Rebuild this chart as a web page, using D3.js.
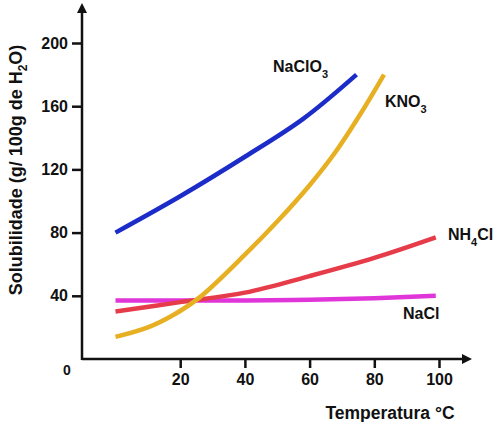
<!DOCTYPE html>
<html>
<head>
<meta charset="utf-8">
<script src="https://cdn.jsdelivr.net/npm/d3@7"></script>
<style>
  body { margin: 0; background: #fff; }
  svg text { font-family: "Liberation Sans", Arial, sans-serif; font-weight: bold; fill: #111; }
</style>
</head>
<body>
<div id="chart"></div>
<script>
// solubility curves
const naclo3Temp = [0, 20, 40, 58, 74.5];
const naclo3Sol = [80, 103, 128, 152, 180];

const kno3Temp = [0, 10, 18, 26, 40, 50, 60, 68, 76, 83];
const kno3Sol = [14, 20, 28, 39, 66, 87, 110, 131, 156, 180];

const nh4clTemp = [0, 20, 40, 60, 80, 99];
const nh4clSol = [30, 36, 42, 52.5, 64, 77];

const naclTemp = [0, 20, 40, 60, 80, 99];
const naclSol = [37, 37, 37, 37.5, 38.5, 40];

const xTicks = [20, 40, 60, 80, 100];
const yTicks = [40, 80, 120, 160, 200];

const width = 500;
const height = 422;

const svg = d3.select("#chart")
  .append("svg")
    .attr("width", width)
    .attr("height", height);

const x = d3.scaleLinear()
  .domain([0, 100])
  .range([115.5, 439]);
const y = d3.scaleLinear()
  .domain([0, 200])
  .range([359, 43]);

const axisX0 = 82;

// x axis
svg.append("g")
  .attr("class", "domainX")
  .attr("transform", `translate(0, ${y(0)})`)
  .call(d3.axisBottom(x).tickValues(xTicks).tickSize(9).tickPadding(6))
  .call(g => g.select(".domain").remove());
svg.selectAll(".domainX line").attr("stroke", "#111").attr("stroke-width", 2.5);
svg.selectAll(".domainX text").style("font-size", "16px");

// y axis
svg.append("g")
  .attr("class", "domainY")
  .attr("transform", `translate(${axisX0}, 0)`)
  .call(d3.axisLeft(y).tickValues(yTicks).tickSize(10).tickPadding(4))
  .call(g => g.select(".domain").remove());
svg.selectAll(".domainY line").attr("stroke", "#111").attr("stroke-width", 2.5);
svg.selectAll(".domainY text").style("font-size", "16px");

// axis lines with arrows
svg.append("line")
  .attr("x1", axisX0).attr("y1", y(0))
  .attr("x2", 466).attr("y2", y(0))
  .attr("stroke", "#111").attr("stroke-width", 2.5);
svg.append("path")
  .attr("d", `M472,${y(0)} L462,${y(0) - 5} L462,${y(0) + 5} Z`)
  .attr("fill", "#111");
svg.append("line")
  .attr("x1", axisX0).attr("y1", y(0) + 1)
  .attr("x2", axisX0).attr("y2", 10)
  .attr("stroke", "#111").attr("stroke-width", 2.5);
svg.append("path")
  .attr("d", `M${axisX0},3 L${axisX0 - 5},13 L${axisX0 + 5},13 Z`)
  .attr("fill", "#111");

// origin label
svg.append("text")
  .attr("x", 67).attr("y", 375)
  .attr("text-anchor", "middle")
  .style("font-size", "14px")
  .text("0");

// curves
const series = [
  { t: naclTemp, v: naclSol, color: "#e035d8" },
  { t: nh4clTemp, v: nh4clSol, color: "#e63c4a" },
  { t: kno3Temp, v: kno3Sol, color: "#e6b022" },
  { t: naclo3Temp, v: naclo3Sol, color: "#1c2cc8" }
];

const line = d3.line()
  .x(d => x(d[0]))
  .y(d => y(d[1]))
  .curve(d3.curveCatmullRom.alpha(0.5));

series.forEach(s => {
  svg.append("path")
    .datum(s.t.map((t, i) => [t, s.v[i]]))
    .attr("fill", "none")
    .attr("stroke", s.color)
    .attr("stroke-width", 4.5)
    .attr("d", line);
});

// curve labels
const addLabel = (px, py, main, sub, rest) => {
  const t = svg.append("text")
    .attr("x", px).attr("y", py)
    .style("font-size", "16px");
  t.append("tspan").text(main);
  if (sub) {
    t.append("tspan").attr("dy", 6).style("font-size", "11px").text(sub);
    if (rest) t.append("tspan").attr("dy", -6).text(rest);
  }
};
addLabel(273, 72, "NaClO", "3");
addLabel(385, 107, "KNO", "3");
addLabel(448, 240, "NH", "4", "Cl");
addLabel(403, 319, "NaCl");

// axis titles
svg.append("text")
  .attr("x", 390).attr("y", 419)
  .attr("text-anchor", "middle")
  .style("font-size", "17.5px")
  .text("Temperatura \u00B0C");

const yTitle = svg.append("text")
  .attr("transform", "translate(22, 170) rotate(-90)")
  .attr("text-anchor", "middle")
  .style("font-size", "18px");
yTitle.append("tspan").text("Solubilidade (g/ 100g de H");
yTitle.append("tspan").attr("dy", 5).style("font-size", "12px").text("2");
yTitle.append("tspan").attr("dy", -5).text("O)");
</script>
</body>
</html>
